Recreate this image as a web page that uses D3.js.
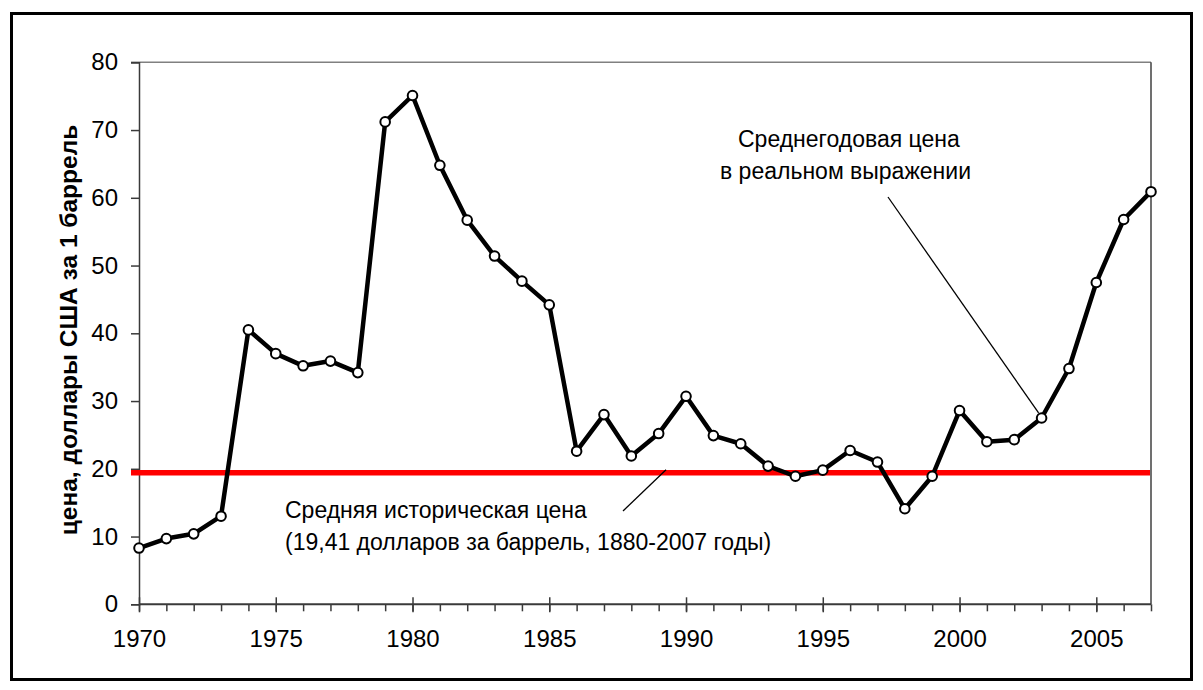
<!DOCTYPE html>
<html><head><meta charset="utf-8">
<script src="https://cdn.jsdelivr.net/npm/d3@7"></script>
<style>
html,body{margin:0;padding:0;background:#fff;}
svg{display:block;font-family:"Liberation Sans",Arial,sans-serif;}
</style></head>
<body>
<svg id="chart" width="1203" height="690"></svg>
<script>
const years = d3.range(1970, 2008);
const prices = [8.3, 9.7, 10.4, 13.0, 40.5, 37.0, 35.2, 35.9, 34.2, 71.2,
  75.1, 64.8, 56.7, 51.4, 47.7, 44.2, 22.6, 28.0, 21.9, 25.2,
  30.7, 24.9, 23.7, 20.4, 18.9, 19.8, 22.7, 21.0, 14.1, 18.9,
  28.6, 24.0, 24.3, 27.5, 34.8, 47.5, 56.8, 60.9];
const avgPrice = 19.41;
const yTicks = [0, 10, 20, 30, 40, 50, 60, 70, 80];
const xTickLabels = [1970, 1975, 1980, 1985, 1990, 1995, 2000, 2005];
const yTitle = "цена, доллары США за 1 баррель";
const noteAvg = ["Средняя историческая цена", "(19,41 долларов за баррель, 1880-2007 годы)"];
const noteReal = ["Среднегодовая цена", "в реальном выражении"];

const svg = d3.select("#chart");
const x = d3.scaleLinear().domain([1970, 2007]).range([139, 1151]);
const y = d3.scaleLinear().domain([0, 80]).range([604.3, 62.3]);
const fs = 23;
const tfs = 24;
const axisColor = "#3a3a3a";

// outer frame
svg.append("rect").attr("x", 11.5).attr("y", 13.5).attr("width", 1180).attr("height", 666)
  .attr("fill", "none").attr("stroke", "#000").attr("stroke-width", 3);

// plot frame (top and right)
svg.append("line").attr("x1", 131).attr("x2", x(2007)).attr("y1", y(80)).attr("y2", y(80))
  .attr("stroke", "#808080").attr("stroke-width", 1.5);
svg.append("line").attr("x1", x(2007)).attr("x2", x(2007)).attr("y1", y(80)).attr("y2", y(0))
  .attr("stroke", "#404040").attr("stroke-width", 1.5);

// y axis
const yAxis = d3.axisLeft(y).tickValues(yTicks).tickSize(8).tickPadding(13).tickFormat(d3.format("d"));
const gy = svg.append("g").attr("transform", `translate(${x(1970)},0)`).call(yAxis);
gy.select(".domain").attr("stroke", axisColor).attr("stroke-width", 1.5);
gy.selectAll(".tick line").attr("stroke", axisColor).attr("stroke-width", 1.5);
gy.selectAll(".tick text").attr("font-size", tfs).attr("fill", "#000")
  .attr("font-family", "Liberation Sans, Arial, sans-serif");

// x axis minor ticks
const gx = svg.append("g").attr("transform", `translate(0,${y(0)})`);
gx.call(d3.axisBottom(x).tickValues(years).tickSize(7).tickFormat(""))
  .call(g => g.select(".domain").remove());
gx.selectAll(".tick line").attr("stroke", axisColor).attr("stroke-width", 1.5);
// major ticks crossing axis
const gxm = svg.append("g").attr("transform", `translate(0,${y(0)})`);
gxm.call(d3.axisBottom(x).tickValues(xTickLabels).tickSize(8).tickPadding(18).tickFormat(d3.format("d")));
gxm.select(".domain").attr("d", `M${x(1970)},0H${x(2007)}`).attr("stroke", axisColor).attr("stroke-width", 2);
gxm.selectAll(".tick line").attr("y1", -7).attr("stroke", axisColor).attr("stroke-width", 1.5);
gxm.selectAll(".tick text").attr("font-size", tfs).attr("fill", "#000")
  .attr("font-family", "Liberation Sans, Arial, sans-serif");

// y title
svg.append("text").attr("transform", `translate(77,330) rotate(-90)`)
  .attr("text-anchor", "middle").attr("font-size", 24.5).attr("font-weight", "bold").text(yTitle);

// average line
svg.append("line").attr("x1", 131).attr("x2", x(2007) - 1).attr("y1", y(avgPrice)).attr("y2", y(avgPrice))
  .attr("stroke", "#ff0000").attr("stroke-width", 5.5);

// annotation leader lines
svg.append("line").attr("x1", 623).attr("y1", 511).attr("x2", x(1990) - 20).attr("y2", y(avgPrice) - 3)
  .attr("stroke", "#000").attr("stroke-width", 1.3);
svg.append("line").attr("x1", 888).attr("y1", 197).attr("x2", x(2003) - 3).attr("y2", y(prices[33]) - 5)
  .attr("stroke", "#000").attr("stroke-width", 1.3);

// data line
const line = d3.line().x((d, i) => x(years[i])).y(d => y(d));
svg.append("path").datum(prices).attr("d", line).attr("fill", "none")
  .attr("stroke", "#000").attr("stroke-width", 4.5).attr("stroke-linejoin", "round");
svg.selectAll("circle.pt").data(prices).join("circle").attr("class", "pt")
  .attr("cx", (d, i) => x(years[i])).attr("cy", d => y(d)).attr("r", 4.8)
  .attr("fill", "#fff").attr("stroke", "#000").attr("stroke-width", 2);

// annotation texts
const t1 = svg.append("text").attr("font-size", fs).attr("fill", "#000");
t1.append("tspan").attr("x", 285).attr("y", 518).text(noteAvg[0]);
t1.append("tspan").attr("x", 285).attr("y", 550).text(noteAvg[1]);
const t2 = svg.append("text").attr("font-size", fs).attr("fill", "#000");
t2.append("tspan").attr("x", 738).attr("y", 147).text(noteReal[0]);
t2.append("tspan").attr("x", 720).attr("y", 179).text(noteReal[1]);
</script>
</body></html>
